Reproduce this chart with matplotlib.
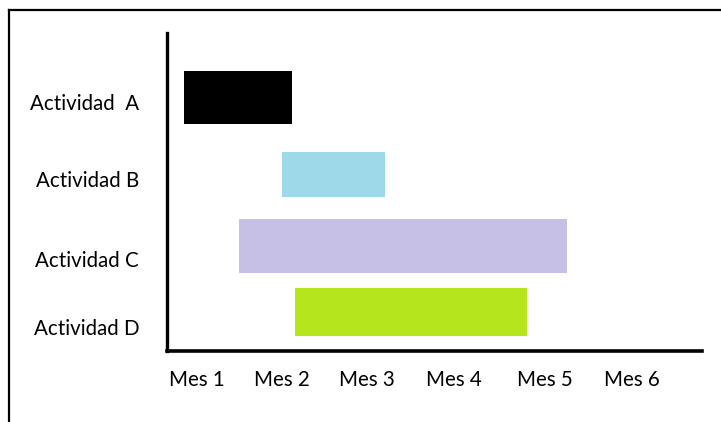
import matplotlib.pyplot as plt
from matplotlib.lines import Line2D

# datos del diagrama de Gantt (meses)
actividades = ['Actividad  A', 'Actividad B', 'Actividad C', 'Actividad D']
inicio = [0.85, 1.98, 1.48, 2.13]
fin = [2.09, 3.16, 5.25, 4.79]
colores = ['#000000', '#9dd9e8', '#c6c0e6', '#b5e61d']
meses = ['Mes 1', 'Mes 2', 'Mes 3', 'Mes 4', 'Mes 5', 'Mes 6']

# posiciones verticales (filas) y alto de cada barra
fila = [97.5, 174.5, 246, 312]
alto = [53, 45, 54, 48]
fila_etiqueta = [102, 179, 259, 327]

plt.rcParams['font.family'] = ['Lato', 'DejaVu Sans']

W, H = 721, 422
fig = plt.figure(figsize=(W / 100, H / 100), dpi=100)
ax = fig.add_axes([167 / W, 1 - 351 / H, (702 - 167) / W, (351 - 33) / H])

for i in range(len(actividades)):
    ax.barh(fila[i], fin[i] - inicio[i], left=inicio[i], height=alto[i],
            color=colores[i], edgecolor='none')

ax.set_xlim(0.655, 6.80)
ax.set_ylim(351, 33)
ax.set_xticks([1, 1.98, 2.95, 3.95, 5.0, 6.0])
ax.set_xticklabels(meses, fontsize=14.8)
ax.set_yticks(fila_etiqueta)
ax.set_yticklabels(actividades, fontsize=14.8)
ax.tick_params(axis='x', length=0, pad=14)
ax.tick_params(axis='y', length=0, pad=20)

for s in ['top', 'right']:
    ax.spines[s].set_visible(False)
ax.spines['left'].set_linewidth(2.4)
ax.spines['bottom'].set_linewidth(2.6)

# marco de la imagen
fig.add_artist(Line2D([9 / W, 1], [1 - 10 / H, 1 - 10 / H], color='black', lw=1.6))
fig.add_artist(Line2D([9 / W, 9 / W], [0, 1 - 10 / H], color='black', lw=1.6))

fig.savefig('out.png', dpi=100)
